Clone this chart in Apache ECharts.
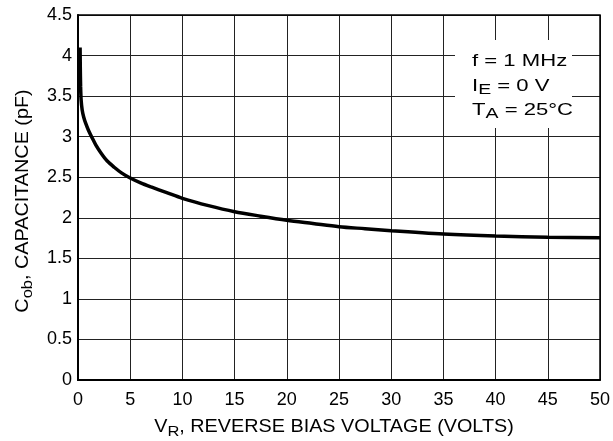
<!DOCTYPE html>
<html>
<head>
<meta charset="utf-8">
<script src="https://cdn.jsdelivr.net/npm/echarts@6/dist/echarts.min.js"></script>
<style>
html,body{margin:0;padding:0;background:#fff;}
#chart{width:613px;height:441px;}
</style>
</head>
<body>
<div id="chart"></div>
<script>
// Reverse bias voltage (V) and capacitance (pF)
var voltage = [0.2, 0.22, 0.25, 0.3, 0.4, 0.55, 0.75, 1.0, 1.3, 1.7, 2.2, 2.8, 3.5, 4.2, 5, 6, 7, 8.5, 10, 12.5, 15, 17.5, 20, 22.5, 25, 27.5, 30, 35, 40, 45, 50];
var capacitance = [4.1, 3.85, 3.62, 3.45, 3.33, 3.24, 3.16, 3.08, 3.0, 2.9, 2.8, 2.7, 2.62, 2.55, 2.49, 2.43, 2.38, 2.31, 2.24, 2.15, 2.075, 2.02, 1.97, 1.93, 1.89, 1.865, 1.84, 1.80, 1.775, 1.76, 1.755];
var xTicks = [0, 5, 10, 15, 20, 25, 30, 35, 40, 45, 50];
var yTicks = [0, 0.5, 1, 1.5, 2, 2.5, 3, 3.5, 4, 4.5];
var noteLines = ['f = 1 MHz', 'I_E = 0 V', 'T_A = 25°C'];

var FONT = '"Liberation Sans", Arial, sans-serif';
var chart = echarts.init(document.getElementById('chart'));

var seriesData = voltage.map(function (v, i) { return [v, capacitance[i]]; });

var option = {
  animation: false,
  backgroundColor: '#fff',
  grid: { left: 78, top: 15, right: 13, bottom: 61, containLabel: false },
  xAxis: {
    type: 'value',
    min: xTicks[0], max: xTicks[xTicks.length - 1], interval: 5,
    axisLine: { show: true, onZero: false, lineStyle: { color: '#000', width: 2 } },
    axisTick: { show: false },
    axisLabel: { color: '#000', fontSize: 18, fontFamily: FONT, margin: 11 },
    splitLine: { show: true, lineStyle: { color: '#222', width: 1 } }
  },
  yAxis: {
    type: 'value',
    min: yTicks[0], max: yTicks[yTicks.length - 1], interval: 0.5,
    axisLine: { show: true, onZero: false, lineStyle: { color: '#000', width: 2 } },
    axisTick: { show: false },
    axisLabel: { color: '#000', fontSize: 18, fontFamily: FONT, margin: 6 },
    splitLine: { show: true, lineStyle: { color: '#222', width: 1 } }
  },
  series: [{
    type: 'line',
    data: seriesData,
    showSymbol: false,
    smooth: 0.3,
    lineStyle: { color: '#000', width: 3.5 },
    z: 5
  }],
  graphic: [
    { type: 'rect', z: 20, shape: { x: 78, y: 15, width: 522, height: 365 },
      style: { fill: 'none', stroke: '#000', lineWidth: 1.5 } },
    { type: 'rect', z: 20, shape: { x: 455, y: 40, width: 117, height: 88 }, style: { fill: '#fff' } },
    { type: 'text', z: 21, x: 472, y: 61, scaleX: 1.3,
      style: { text: noteLines[0], font: '17px ' + FONT, fill: '#000', textVerticalAlign: 'middle' } },
    { type: 'text', z: 21, x: 472, y: 86, scaleX: 1.3,
      style: { text: '{a|I}{s|E}{a| = 0 V}', fill: '#000', textVerticalAlign: 'middle',
        rich: { a: { fontSize: 17, fontFamily: FONT, lineHeight: 22, verticalAlign: 'middle' },
                s: { fontSize: 15, fontFamily: FONT, lineHeight: 12, verticalAlign: 'bottom' } } } },
    { type: 'text', z: 21, x: 472, y: 110, scaleX: 1.3,
      style: { text: '{a|T}{s|A}{a| = 25°C}', fill: '#000', textVerticalAlign: 'middle',
        rich: { a: { fontSize: 17, fontFamily: FONT, lineHeight: 22, verticalAlign: 'middle' },
                s: { fontSize: 15, fontFamily: FONT, lineHeight: 12, verticalAlign: 'bottom' } } } },
    { type: 'text', z: 21, x: 334, y: 427, scaleX: 1.1,
      style: { text: '{a|V}{s|R}{a|, REVERSE BIAS VOLTAGE (VOLTS)}', fill: '#000', textAlign: 'center', textVerticalAlign: 'middle',
        rich: { a: { fontSize: 18, fontFamily: FONT, lineHeight: 24, verticalAlign: 'middle' },
                s: { fontSize: 15, fontFamily: FONT, lineHeight: 13, verticalAlign: 'bottom' } } } },
    { type: 'text', z: 21, x: 23, y: 201, rotation: Math.PI / 2, scaleX: 1.1,
      style: { text: '{a|C}{s|ob}{a|, CAPACITANCE (pF)}', fill: '#000', textAlign: 'center', textVerticalAlign: 'middle',
        rich: { a: { fontSize: 18, fontFamily: FONT, lineHeight: 24, verticalAlign: 'middle' },
                s: { fontSize: 15, fontFamily: FONT, lineHeight: 13, verticalAlign: 'bottom' } } } }
  ]
};
chart.setOption(option);
</script>
</body>
</html>
